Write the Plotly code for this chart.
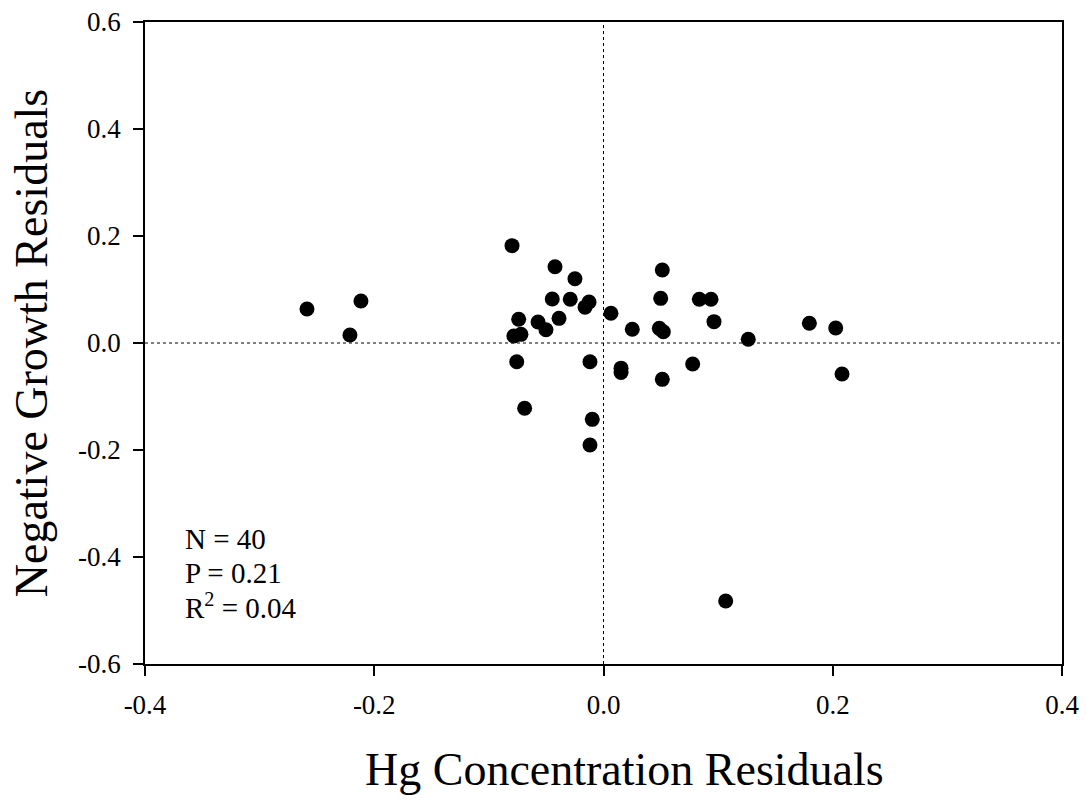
import plotly.graph_objects as go

hg_resid = [-0.2587, -0.2116, -0.2212, -0.0798, -0.0423, -0.0249, -0.0447, -0.0290,
            -0.0161, -0.0126, 0.0065, 0.0251, -0.0740, -0.0571, -0.0502, -0.0388,
            -0.0782, -0.0720, -0.0757, -0.0118, 0.0153, 0.0153, -0.0688, -0.0098,
            -0.0118, 0.0513, 0.0499, 0.0836, 0.0938, 0.0964, 0.0487, 0.0522,
            0.1263, 0.0778, 0.0513, 0.1796, 0.2026, 0.2081, 0.1066]
growth_resid = [0.0636, 0.0785, 0.0150, 0.1820, 0.1426, 0.1200, 0.0822, 0.0817,
                0.0670, 0.0766, 0.0555, 0.0256, 0.0443, 0.0393, 0.0249, 0.0461,
                0.0131, 0.0162, -0.0350, -0.0350, -0.0470, -0.0550, -0.1220, -0.1427,
                -0.1907, 0.1364, 0.0835, 0.0817, 0.0817, 0.0399, 0.0274, 0.0211,
                0.0069, -0.0393, -0.0679, 0.0368, 0.0280, -0.0580, -0.4822]

x_ticks = [-0.4, -0.2, 0.0, 0.2, 0.4]
y_ticks = [-0.6, -0.4, -0.2, 0.0, 0.2, 0.4, 0.6]
stats_lines = ["N = 40", "P = 0.21", "R<sup>2</sup> = 0.04"]
x_title = "Hg Concentration Residuals"
y_title = "Negative Growth Residuals"

FONT = "Liberation Serif, Times New Roman, serif"

fig = go.Figure()
fig.add_trace(go.Scatter(x=hg_resid, y=growth_resid, mode="markers",
                         marker=dict(size=15, color="black"), showlegend=False,
                         hoverinfo="skip"))

fig.add_shape(type="line", xref="x", yref="paper", x0=0, x1=0, y0=0, y1=1,
              line=dict(color="black", width=1, dash="dot"))
fig.add_shape(type="line", xref="paper", yref="y", x0=0, x1=1, y0=0, y1=0,
              line=dict(color="black", width=1, dash="dot"))

for i, t in enumerate(stats_lines):
    fig.add_annotation(text=t, xref="x", yref="y", x=-0.367, y=-0.3665 - i * 0.0625,
                       xanchor="left", yanchor="middle", showarrow=False,
                       font=dict(family=FONT, size=29, color="black"))

# x-axis title (slightly right of centre, as in the reference)
fig.add_annotation(text=x_title, xref="paper", yref="paper", x=0.5224, y=-0.165,
                   xanchor="center", yanchor="middle", showarrow=False,
                   font=dict(family=FONT, size=46, color="black"))

axis_common = dict(ticks="outside", ticklen=10, tickwidth=1.5, tickcolor="black",
                   showline=True, linecolor="black", linewidth=1.5, mirror=True,
                   showgrid=False, zeroline=False, automargin=False,
                   tickfont=dict(family=FONT, size=27, color="black"))

fig.update_layout(
    width=1086, height=800,
    margin=dict(l=145, r=24, t=22, b=136),
    paper_bgcolor="white", plot_bgcolor="white",
    font=dict(family=FONT, color="black"),
    xaxis=dict(range=[-0.4, 0.4], tickvals=x_ticks, ticktext=[f"{v:.1f}" for v in x_ticks],
               ticklabelstandoff=6, **axis_common),
    yaxis=dict(range=[-0.6, 0.6], tickvals=y_ticks, ticktext=[f"{v:.1f}" for v in y_ticks],
               ticklabelstandoff=7,
               title=dict(text=y_title,
                          font=dict(family=FONT, size=46, color="black"), standoff=16),
               **axis_common),
)

fig.write_html("out.html")
